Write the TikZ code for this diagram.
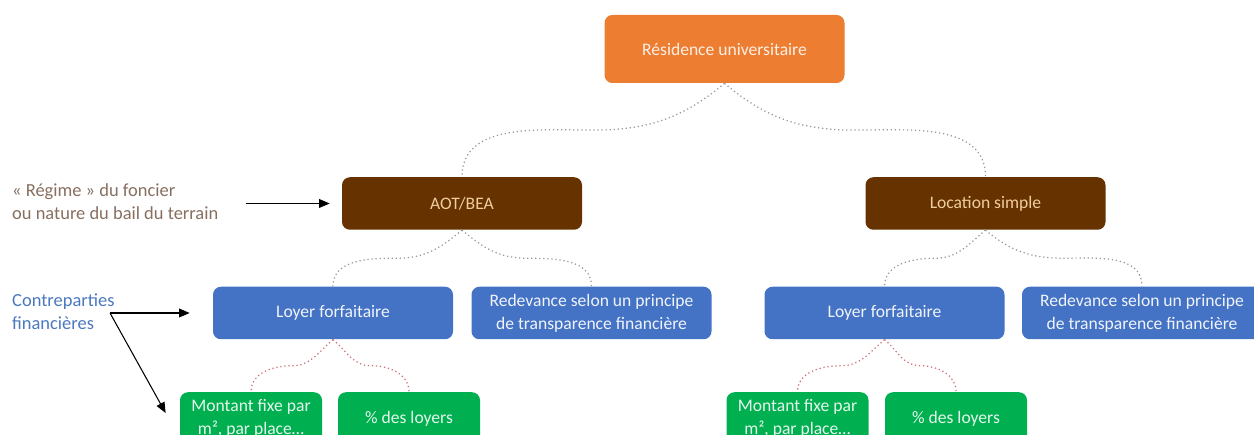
\documentclass[tikz,border=0pt]{standalone}
\usepackage{fontspec}
\setmainfont{Carlito}
\usetikzlibrary{arrows.meta, calc, positioning}
\definecolor{rootorange}{RGB}{237,125,49}
\definecolor{landbrown}{RGB}{102,51,0}
\definecolor{rentblue}{RGB}{68,114,196}
\definecolor{detailgreen}{RGB}{0,176,80}
\definecolor{notebrown}{RGB}{135,110,95}
\definecolor{noteblue}{RGB}{75,120,190}
\definecolor{linkgray}{RGB}{150,150,155}
\definecolor{linkred}{RGB}{205,110,115}
\definecolor{labeltan}{RGB}{240,205,160}

\begin{document}
\begin{tikzpicture}[
    >={Triangle[length=6pt,width=5pt]},
    box/.style={rounded corners=4.5pt, minimum width=4.8cm, minimum height=1.05cm,
        align=center, inner sep=1pt, font=\fontsize{10}{13}\selectfont},
    smallbox/.style={box, minimum width=2.84cm},
    link/.style={line width=0.7pt, dash pattern=on 0.7pt off 1.6pt, linkgray},
    note/.style={anchor=west, align=left, font=\fontsize{10.5}{13}\selectfont},
    pointer/.style={->, line width=0.6pt},
]
\useasboundingbox (0,0) rectangle (25.08,8.7);

% === NIVEAUX ===
\node[box, fill=rootorange, text=white!88!rootorange, minimum height=1.36cm] (res) at (14.49,7.72) {Résidence universitaire};

\node[box, fill=landbrown, text=labeltan] (aot) at (9.24,4.63) {AOT/BEA};
\node[box, fill=landbrown, text=labeltan] (loc) at (19.71,4.63) {Location simple};

\node[box, fill=rentblue, text=white!92!rentblue] (loyerL) at (6.66,2.44) {Loyer forfaitaire};
\node[box, fill=rentblue, text=white!92!rentblue] (redevL) at (11.83,2.44) {Redevance selon un principe\\de transparence financière};
\node[box, fill=rentblue, text=white!92!rentblue] (loyerR) at (17.69,2.44) {Loyer forfaitaire};
\node[box, fill=rentblue, text=white!92!rentblue] (redevR) at (22.84,2.44) {Redevance selon un principe\\de transparence financière};

\node[smallbox, fill=detailgreen, text=white!90!detailgreen] (montL) at (5.02,0.33) {Montant fixe par\\m², par place…};
\node[smallbox, fill=detailgreen, text=white!90!detailgreen] (pctL) at (8.18,0.33) {\% des loyers};
\node[smallbox, fill=detailgreen, text=white!90!detailgreen] (montR) at (15.95,0.33) {Montant fixe par\\m², par place…};
\node[smallbox, fill=detailgreen, text=white!90!detailgreen] (pctR) at (19.12,0.33) {\% des loyers};

% === LIENS ===
\foreach \p/\c/\o/\a/\b in {res/aot/-140/0/180, res/loc/-40/180/0, aot/loyerL/-140/0/180, aot/redevL/-40/180/0,
                          loc/loyerR/-140/0/180, loc/redevR/-40/180/0} {
    \draw[link] (\p.south) to[out=\o,in=\a] ($(\p.south)!.5!(\c.north)$) to[out=\b,in=90] (\c.north);
}
\foreach \p/\c/\o/\a/\b in {loyerL/montL/-140/0/180, loyerL/pctL/-40/180/0, loyerR/montR/-140/0/180, loyerR/pctR/-40/180/0} {
    \draw[link, linkred] (\p.south) to[out=\o,in=\a] ($(\p.south)!.5!(\c.north)$) to[out=\b,in=90] (\c.north);
}

% === ANNOTATIONS ===
\node[note, text=notebrown] (regime) at (0.12,4.67) {« Régime » du foncier\\ou nature du bail du terrain};
\draw[pointer, shorten <=0.42cm, shorten >=0.24cm] (regime.east |- aot.west) -- (aot.west);

\node[note, text=noteblue] (contre) at (0.12,2.47) {Contreparties\\financières};
\coordinate (fork) at (2.2,2.44);
\draw[pointer, shorten >=0.46cm] (fork) -- (loyerL.west);
\draw[pointer] (fork) -- ($(montL.west)+(-0.28,0.11)$);

\end{tikzpicture}
\end{document}
